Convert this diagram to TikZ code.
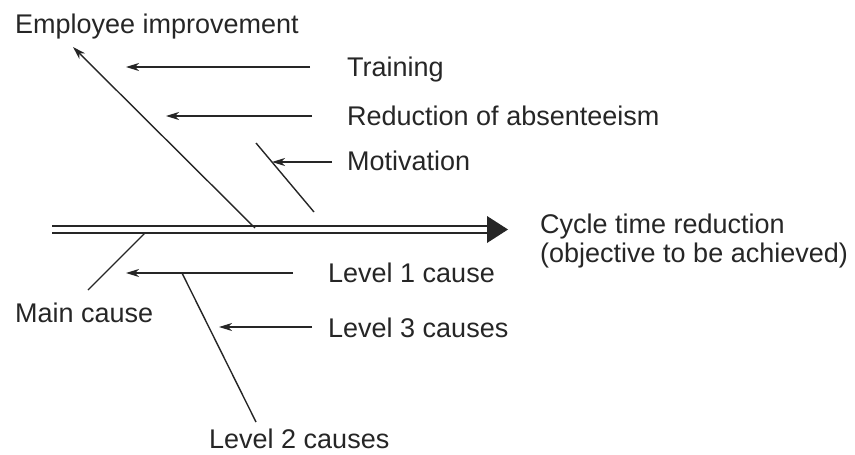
\documentclass[tikz,border=0pt]{standalone}
\usepackage{fontspec}
\setmainfont{Liberation Sans}
\usetikzlibrary{arrows.meta}
\definecolor{ink}{HTML}{262626}
\begin{document}
\begin{tikzpicture}[x=1pt,y=-1pt,
  lbl/.style={inner sep=0pt,anchor=base west,text=ink,font=\fontsize{27}{31}\selectfont},
  bone/.style={draw=ink,line width=1.4pt},
  arr/.style={bone,-{Stealth[length=13pt,width=8pt,inset=4pt]}},
  spine/.style={draw=ink,line width=1.6pt}]
\useasboundingbox (0,0) rectangle (855,455);

% head of the fish: the objective
\node[lbl] (goal1) at (540,233) {Cycle time reduction};
\node[lbl] (goal2) at (540,262) {(objective to be achieved)};

% spine (double line) ending in a filled arrowhead
\coordinate (sp0) at (52,229.5);
\coordinate (sp1) at (487,229.5);
\coordinate (tipA) at (487,216);
\coordinate (tipB) at (508,229.5);
\coordinate (tipC) at (487,243);
\draw[spine] ([yshift=-3.5pt]sp0) -- ([yshift=-3.5pt]sp1);
\draw[spine] ([yshift=3.5pt]sp0) -- ([yshift=3.5pt]sp1);
\fill[ink] (tipA) -- (tipB) -- (tipC) -- cycle;

% upper main bone with its causes
\node[lbl] (emp) at (15,33) {Employee improvement};
\node[lbl] (train) at (347,76) {Training};
\node[lbl] (absent) at (347,125) {Reduction of absenteeism};
\node[lbl] (motiv) at (347,170) {Motivation};

\coordinate (mb0) at (255,228);
\coordinate (mb1) at (73,47);
\draw[arr] (mb0) -- (mb1);

\coordinate (t0) at (310,67);
\coordinate (t1) at (126,67);
\draw[arr] (t0) -- (t1);

\coordinate (r0) at (312,116);
\coordinate (r1) at (166,116);
\draw[arr] (r0) -- (r1);

\coordinate (mv0) at (314,212);
\coordinate (mv1) at (256,143);
\draw[bone] (mv0) -- (mv1);
\coordinate (ma0) at (332,162);
\coordinate (ma1) at (272,162);
\draw[arr] (ma0) -- (ma1);

% lower bones: generic cause levels
\node[lbl] (main) at (15,322) {Main cause};
\node[lbl] (lev1) at (328,282) {Level 1 cause};
\node[lbl] (lev3) at (328,337) {Level 3 causes};
\node[lbl] (lev2) at (209,448) {Level 2 causes};

\coordinate (mc0) at (145,233);
\coordinate (mc1) at (88,290);
\draw[bone] (mc0) -- (mc1);

\coordinate (l10) at (293,273);
\coordinate (l11) at (126,273);
\draw[arr] (l10) -- (l11);

\coordinate (l20) at (182,273);
\coordinate (l21) at (256,422);
\draw[bone] (l20) -- (l21);

\coordinate (l30) at (312,327);
\coordinate (l31) at (219,327);
\draw[arr] (l30) -- (l31);
\end{tikzpicture}
\end{document}
